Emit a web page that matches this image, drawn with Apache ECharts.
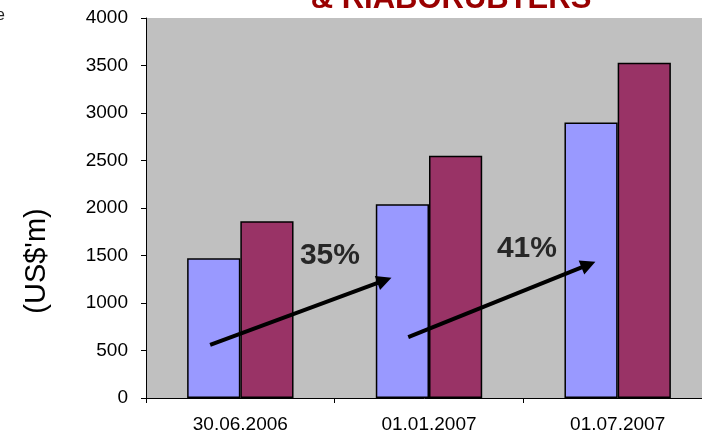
<!DOCTYPE html>
<html>
<head>
<meta charset="utf-8">
<script src="https://cdn.jsdelivr.net/npm/echarts@6/dist/echarts.min.js"></script>
<style>
  html, body { margin: 0; padding: 0; background: #ffffff; }
  #chart { width: 702px; height: 439px; }
</style>
</head>
<body>
<div id="chart"></div>
<script>
// Reporting dates on the category axis
const categories = ['30.06.2006', '01.01.2007', '01.07.2007'];
// Two series of values in US$ millions
const seriesA = [1470, 2040, 2900];
const seriesB = [1860, 2550, 3530];
// Y axis ticks
const yTicks = { min: 0, max: 4000, interval: 500 };
// Growth arrows, in data space (x: category position, y: value)
const arrowA = [[-0.16, 560], [0.764, 1238]];
const arrowB = [[0.89, 640], [1.845, 1404]];
// Growth labels
const growthLabels = [
  { text: '35%', pos: [0.475, 1500] },
  { text: '41%', pos: [1.519, 1575] }
];
const titleText = '& RIABORUBTERS';
const yName = "(US$'m)";

const chart = echarts.init(document.getElementById('chart'), null, { renderer: 'canvas' });

const FONT = 'Liberation Sans, Arial, sans-serif';

chart.setOption({
  animation: false,
  backgroundColor: '#ffffff',
  title: {
    text: titleText,
    left: 446,
    top: -21,
    textAlign: 'center',
    textStyle: { color: '#990000', fontFamily: FONT, fontWeight: 'bold', fontSize: 31 }
  },
  graphic: [
    {
      type: 'text',
      left: -4, top: 8,
      style: { text: 'e', fill: '#222', font: '16px ' + FONT }
    },
    {
      type: 'text',
      x: 37, y: 261,
      rotation: Math.PI / 2,
      style: {
        text: yName, fill: '#000', font: '29px ' + FONT,
        textAlign: 'center', textVerticalAlign: 'middle'
      }
    }
  ],
  grid: {
    left: 146, width: 566, top: 18, bottom: 41,
    outerBoundsMode: 'none',
    containLabel: false,
    show: true, backgroundColor: '#c0c0c0', borderWidth: 0
  },
  xAxis: [
    {
      type: 'category',
      data: categories,
      axisLine: { lineStyle: { color: '#000', width: 1 } },
      axisTick: { show: true, length: 5, lineStyle: { color: '#000' } },
      axisLabel: { color: '#000', fontFamily: FONT, fontSize: 19, margin: 17 },
      splitLine: { show: false }
    },
    {
      type: 'value',
      min: -0.5, max: 2.5,
      show: false
    }
  ],
  yAxis: {
    type: 'value',
    min: yTicks.min, max: yTicks.max, interval: yTicks.interval,
    axisLine: { show: true, onZero: false, lineStyle: { color: '#000', width: 1 } },
    axisTick: { show: true, length: 5, lineStyle: { color: '#000' } },
    axisLabel: {
      color: '#000', fontFamily: FONT, fontSize: 19, margin: 18,
      formatter: v => String(v)
    },
    splitLine: { show: false }
  },
  series: [
    {
      type: 'bar',
      data: seriesA,
      barGap: '0%',
      barCategoryGap: '43.6%',
      itemStyle: { color: '#9999ff', borderColor: '#000', borderWidth: 1.5 }
    },
    {
      type: 'bar',
      data: seriesB,
      itemStyle: { color: '#993366', borderColor: '#000', borderWidth: 1.5 }
    },
    {
      type: 'lines',
      coordinateSystem: 'cartesian2d',
      xAxisIndex: 1,
      yAxisIndex: 0,
      symbol: ['none', 'triangle'],
      symbolSize: 15,
      lineStyle: { color: '#000', width: 4, opacity: 1 },
      data: [{ coords: arrowA }, { coords: arrowB }],
      z: 5
    },
    {
      type: 'scatter',
      xAxisIndex: 1,
      yAxisIndex: 0,
      symbolSize: 0,
      data: growthLabels.map(g => ({ value: g.pos, name: g.text })),
      label: {
        show: true, position: 'inside',
        formatter: p => p.name,
        color: '#000', fontFamily: FONT, fontWeight: 'bold', fontSize: 30
      },
      z: 6
    }
  ]
});
</script>
</body>
</html>
